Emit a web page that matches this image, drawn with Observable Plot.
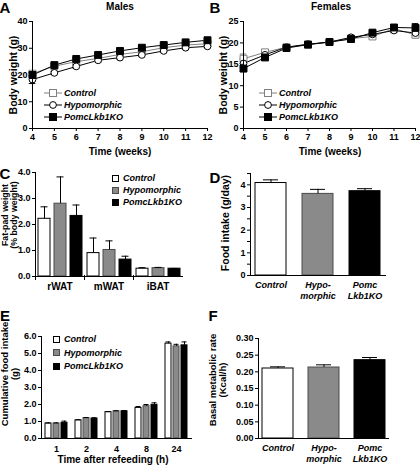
<!DOCTYPE html>
<html><head><meta charset="utf-8">
<script src="https://cdn.jsdelivr.net/npm/d3@7"></script>
<script src="https://cdn.jsdelivr.net/npm/@observablehq/plot@0.6"></script>
<style>
body{margin:0;background:#fff;}
#fig{position:relative;width:420px;height:469px;overflow:hidden;font-family:"Liberation Sans",Arial,Helvetica,sans-serif;font-weight:bold;color:#000;}
.t{position:absolute;white-space:pre;line-height:1;}
</style></head><body><div id="fig"></div>
<script>
// ---------- data ----------
const genotypes = ["Control", "Hypomorphic", "PomcLkb1KO"];
const weeks = [4, 5, 6, 7, 8, 9, 10, 11, 12];

const malesControl = [20.5, 23.3, 25.0, 26.2, 27.7, 28.7, 30.2, 31.2, 31.7];
const malesHypo    = [18.3, 20.8, 23.2, 25.5, 26.5, 27.5, 29.0, 30.2, 30.7];
const malesKO      = [20.0, 23.7, 26.0, 27.5, 29.0, 30.2, 31.2, 32.2, 33.0];
const malesErrControl = [0.9, 0.5, 0.5, 0.5, 0.5, 0.5, 0.5, 0.5, 0.5];
const malesErrHypo    = [1.5, 0.6, 0.6, 0.5, 0.5, 0.5, 0.5, 0.5, 0.5];
const malesErrKO      = [1.0, 0.5, 0.5, 0.5, 0.5, 0.5, 0.5, 0.5, 0.5];

const femalesControl = [16.3, 17.8, 19.0, 19.6, 20.2, 21.0, 21.5, 23.3, 21.9];
const femalesHypo    = [15.2, 17.2, 19.0, 19.7, 20.2, 21.3, 22.0, 22.9, 22.3];
const femalesKO      = [14.0, 16.6, 18.8, 19.6, 20.2, 20.9, 22.4, 23.6, 23.5];
const femalesErrControl = [1.1, 0.4, 0.4, 0.3, 0.3, 0.4, 0.4, 0.5, 0.7];
const femalesErrHypo    = [1.0, 0.4, 0.4, 0.3, 0.3, 0.4, 0.4, 0.5, 0.6];
const femalesErrKO      = [0.7, 0.4, 0.4, 0.3, 0.3, 0.4, 0.4, 0.5, 1.0];

const fatDepots = ["rWAT", "mWAT", "iBAT"];
const fatControl = [2.22, 0.90, 0.30];
const fatHypo    = [2.80, 1.02, 0.32];
const fatKO      = [2.33, 0.65, 0.30];
const fatErrControl = [0.46, 0.58, 0.04];
const fatErrHypo    = [1.03, 0.35, 0.03];
const fatErrKO      = [0.42, 0.13, 0.01];

const foodIntake    = [4.08, 3.60, 3.72];
const foodIntakeErr = [0.14, 0.20, 0.11];

const refeedHours = ["1", "2", "4", "8", "24"];
const cumControl = [0.88, 1.07, 1.55, 1.80, 5.58];
const cumHypo    = [0.88, 1.20, 1.60, 1.90, 5.42];
const cumKO      = [0.92, 1.17, 1.60, 1.98, 5.48];
const cumErrControl = [0.04, 0.03, 0.03, 0.08, 0.10];
const cumErrHypo    = [0.04, 0.03, 0.03, 0.10, 0.12];
const cumErrKO      = [0.10, 0.05, 0.04, 0.12, 0.20];

const bmr    = [0.210, 0.213, 0.235];
const bmrErr = [0.005, 0.008, 0.008];

// tick labels
const maleYTicks = [0, 10, 20, 30, 40];
const femaleYTicks = [0, 5, 10, 15, 20, 25];
const fatYTicks = [0, 1, 2, 3, 4];
const foodYTicks = [0, 0.5, 1, 1.5, 2, 2.5, 3, 3.5, 4, 4.5];
const cumYTicks = [0, 1, 2, 3, 4, 5, 6];
const bmrYTicks = [0, 0.05, 0.10, 0.15, 0.20, 0.25, 0.30];
const genotypeTickLabels = ["Control", "Hypo-\nmorphic", "Pomc\nLkb1KO"];

// ---------- styles ----------
const FONT = '"Liberation Sans", Arial, Helvetica, sans-serif';
const barFill   = {Control: "#ffffff", Hypomorphic: "#8a8a8a", PomcLkb1KO: "#000000"};
const barStroke = {Control: "#000000", Hypomorphic: "#4a4a4a", PomcLkb1KO: "#000000"};
const lineStroke = {Control: "#808080", Hypomorphic: "#000000", PomcLkb1KO: "#000000"};
const dotStyle = {
  Control:     {symbol: "square", fill: "#ffffff", stroke: "#808080", r: 3.9},
  Hypomorphic: {symbol: "circle", fill: "#ffffff", stroke: "#000000", r: 3.4},
  PomcLkb1KO:  {symbol: "square", fill: "#000000", stroke: "#000000", r: 3.9}
};
const baseStyle = {fontFamily: FONT, fontSize: "9px", fontWeight: "bold", background: "transparent", overflow: "visible"};

const fig = document.getElementById("fig");
function place(node, left, top) {
  node.style.position = "absolute"; node.style.left = left + "px"; node.style.top = top + "px";
  fig.appendChild(node); return node;
}
function label(str, x, y, o = {}) {
  const d = document.createElement("div");
  d.className = "t";
  d.textContent = str;
  d.style.left = x + "px"; d.style.top = y + "px";
  d.style.fontSize = (o.size || 10) + "px";
  if (o.italic) d.style.fontStyle = "italic";
  if (o.lh) d.style.lineHeight = o.lh;
  d.style.textAlign = "center";
  const ax = o.align === "left" ? "0" : "-50%";
  d.style.transform = `translate(${ax},-50%)` + (o.rotate ? " rotate(-90deg)" : "");
  fig.appendChild(d);
  return d;
}

// ---------- line charts (A, B) ----------
function series(vals, errs) {
  const out = [];
  genotypes.forEach((g, k) => weeks.forEach((w, i) => out.push({g, week: w, v: vals[k][i], e: errs[k][i]})));
  return out;
}
function lineChart(data, yDomain, yTicks, marginLeft, marginRight) {
  const marks = [
    Plot.ruleX(data, {x: "week", y1: d => d.v - d.e, y2: d => d.v + d.e, stroke: d => lineStroke[d.g]}),
    Plot.ruleY(data, {y: d => d.v + d.e, x1: d => d.week - 0.15, x2: d => d.week + 0.15, stroke: d => lineStroke[d.g]}),
    Plot.ruleY(data, {y: d => d.v - d.e, x1: d => d.week - 0.15, x2: d => d.week + 0.15, stroke: d => lineStroke[d.g]}),
    Plot.line(data, {x: "week", y: "v", z: "g", stroke: d => lineStroke[d.g], strokeWidth: 1})
  ];
  genotypes.forEach(g => {
    const s = dotStyle[g];
    marks.push(Plot.dot(data.filter(d => d.g === g), {x: "week", y: "v", symbol: s.symbol, fill: s.fill, stroke: s.stroke, r: s.r, strokeWidth: 1}));
  });
  marks.push(
    Plot.frame({anchor: "left"}),
    Plot.frame({anchor: "bottom"}),
    Plot.axisX({ticks: weeks, tickSize: 3, tickPadding: 2, label: null, tickFormat: d => String(d)}),
    Plot.axisY({ticks: yTicks, tickSize: 3, tickPadding: 2, label: null})
  );
  return Plot.plot({
    width: 210, height: 145, marginLeft, marginRight, marginTop: 21, marginBottom: 17,
    style: baseStyle,
    x: {domain: [4, 12]}, y: {domain: yDomain},
    marks
  });
}
const maleData = series([malesControl, malesHypo, malesKO], [malesErrControl, malesErrHypo, malesErrKO]);
const femaleData = series([femalesControl, femalesHypo, femalesKO], [femalesErrControl, femalesErrHypo, femalesErrKO]);
place(lineChart(maleData, [0, 40], maleYTicks, 32, 3), 0, 0);
place(lineChart(femaleData, [0, 25], femaleYTicks, 33, 5), 210, 0);

// ---------- grouped bar charts (C, E) ----------
function grouped(groups, vals, errs) {
  const out = [];
  groups.forEach((c, i) => genotypes.forEach((g, k) => out.push({c, g, v: vals[k][i], e: errs[k][i]})));
  return out;
}
function groupedChart(data, groups, yDomain, yTicks, dims, inner, capInset, sepTicks) {
  const frameH = dims.height - dims.marginTop - dims.marginBottom;
  const marks = [
    Plot.barY(data, {fx: "c", x: "g", y: "v", fill: d => barFill[d.g], stroke: d => barStroke[d.g], strokeWidth: 1}),
    Plot.ruleX(data, {fx: "c", x: "g", y1: "v", y2: d => d.v + d.e}),
    Plot.tickY(data, {fx: "c", x: "g", y: d => d.v + d.e, insetLeft: capInset, insetRight: capInset}),
    Plot.frame({anchor: "left", facetAnchor: "left"}),
    Plot.frame({anchor: "bottom"}),
    Plot.axisY({ticks: yTicks, tickSize: 3, tickPadding: 2, label: null, facetAnchor: "left"}),
    Plot.axisFx({anchor: "bottom", tickSize: 0, tickPadding: dims.fxPad, label: null, fontSize: dims.fxSize})
  ];
  if (sepTicks) marks.push(Plot.frame({anchor: "left", insetTop: frameH - 1, insetBottom: -3}));
  return Plot.plot({
    ...dims,
    style: baseStyle,
    fx: {domain: groups, padding: 0, label: null},
    x: {domain: genotypes, paddingInner: inner.pi, paddingOuter: inner.po, axis: null},
    y: {domain: yDomain, axis: null},
    marks
  });
}
const fatData = grouped(fatDepots, [fatControl, fatHypo, fatKO], [fatErrControl, fatErrHypo, fatErrKO]);
place(groupedChart(fatData, fatDepots, [0, 4], fatYTicks,
  {width: 210, height: 160, marginLeft: 34, marginRight: 27, marginTop: 27, marginBottom: 29, fxPad: 6, fxSize: "10px"},
  {pi: 0.27, po: 0.12}, 2.5, true), 0, 145);

const cumData = grouped(refeedHours, [cumControl, cumHypo, cumKO], [cumErrControl, cumErrHypo, cumErrKO]);
place(groupedChart(cumData, refeedHours, [0, 6], cumYTicks,
  {width: 210, height: 164, marginLeft: 40, marginRight: 19, marginTop: 31, marginBottom: 31, fxPad: 7, fxSize: "9px"},
  {pi: 0.3, po: 0.43}, 0.5, false), 0, 305);

// ---------- simple bar charts (D, F) ----------
function simpleBars(vals, errs, yDomain, yTicks, fmt, dims, pad) {
  const data = genotypes.map((g, i) => ({g, v: vals[i], e: errs[i]}));
  return Plot.plot({
    ...dims,
    style: baseStyle,
    x: {domain: genotypes, paddingInner: pad.pi, paddingOuter: pad.po, axis: null},
    y: {domain: yDomain, axis: null},
    marks: [
      Plot.barY(data, {x: "g", y: "v", fill: d => barFill[d.g], stroke: d => barStroke[d.g], strokeWidth: 1}),
      Plot.ruleX(data, {x: "g", y1: "v", y2: d => d.v + d.e}),
      Plot.tickY(data, {x: "g", y: d => d.v + d.e, insetLeft: 8, insetRight: 8}),
      Plot.frame({anchor: "left"}),
      Plot.frame({anchor: "bottom"}),
      Plot.axisY({ticks: yTicks, tickFormat: fmt, tickSize: 3, tickPadding: 2, label: null}),
      Plot.axisX({tickSize: 0, tickPadding: 5, label: null, fontStyle: "italic", lineHeight: 1.2,
        tickFormat: d => genotypeTickLabels[genotypes.indexOf(d)]})
    ]
  });
}
place(simpleBars(foodIntake, foodIntakeErr, [0, 4.5], foodYTicks, d => Number.isInteger(d) ? String(d) : "",
  {width: 210, height: 160, marginLeft: 40, marginRight: 35, marginTop: 28, marginBottom: 30},
  {pi: 0.34, po: 0.1}), 210, 145);
place(simpleBars(bmr, bmrErr, [0, 0.3], bmrYTicks, d3.format(".2f"),
  {width: 210, height: 164, marginLeft: 48, marginRight: 32, marginTop: 33, marginBottom: 31},
  {pi: 0.33, po: 0.06}), 210, 305);

// ---------- text: letters, titles, axis titles ----------
label("A", 5, 7, {size: 15});
label("B", 215, 7, {size: 15});
label("C", 5, 173, {size: 15});
label("D", 215, 177, {size: 15});
label("E", 5, 315, {size: 15});
label("F", 213, 315, {size: 15});
label("Males", 120, 7);
label("Females", 331, 7);
label("Time (weeks)", 120, 152);
label("Time (weeks)", 330, 152);
label("Body weight (g)", 13, 75, {rotate: true, size: 10.5});
label("Body weight (g)", 223, 75, {rotate: true, size: 10.5});
label("Fat-pad weight\n(% body weight)", 10, 215, {rotate: true, size: 8.8, lh: "1.0"});
label("Food intake (g/day)", 225, 223, {rotate: true, size: 10.5});
label("Cumulative food intake\n(g)", 10, 374, {rotate: true, size: 9.5, lh: "1.05"});
label("Basal metabolic rate\n(Kcal/h)", 218, 380, {rotate: true, size: 9.5, lh: "1.05"});
label("Time after refeeding (h)", 113, 460);

// ---------- legends ----------
function lineLegend(x0, y0) {
  genotypes.forEach((g, i) => {
    const y = y0 + i * 12;
    const s = dotStyle[g];
    const svg = d3.create("svg").attr("width", 20).attr("height", 10).style("overflow", "visible");
    svg.append("line").attr("x1", 0).attr("x2", 18).attr("y1", 5).attr("y2", 5).attr("stroke", lineStroke[g]);
    if (s.symbol === "circle") svg.append("circle").attr("cx", 9).attr("cy", 5).attr("r", 3.4).attr("fill", s.fill).attr("stroke", s.stroke);
    else svg.append("rect").attr("x", 5.5).attr("y", 1.5).attr("width", 7).attr("height", 7).attr("fill", s.fill).attr("stroke", s.stroke);
    place(svg.node(), x0, y - 5);
    label(g, x0 + 20, y, {size: 9, italic: true, align: "left"});
  });
}
lineLegend(44, 93);
lineLegend(259, 93);
function boxLegend(x0, y0, step) {
  genotypes.forEach((g, i) => {
    const y = y0 + i * step;
    const b = document.createElement("div");
    b.style.width = "5px"; b.style.height = "5px";
    b.style.background = barFill[g]; b.style.border = "1px solid " + barStroke[g];
    place(b, x0, y - 3.5);
    label(g, x0 + 11, y, {size: 9, italic: true, align: "left"});
  });
}
boxLegend(112, 178, 12);
boxLegend(53, 339, 13.5);
</script></body></html>
